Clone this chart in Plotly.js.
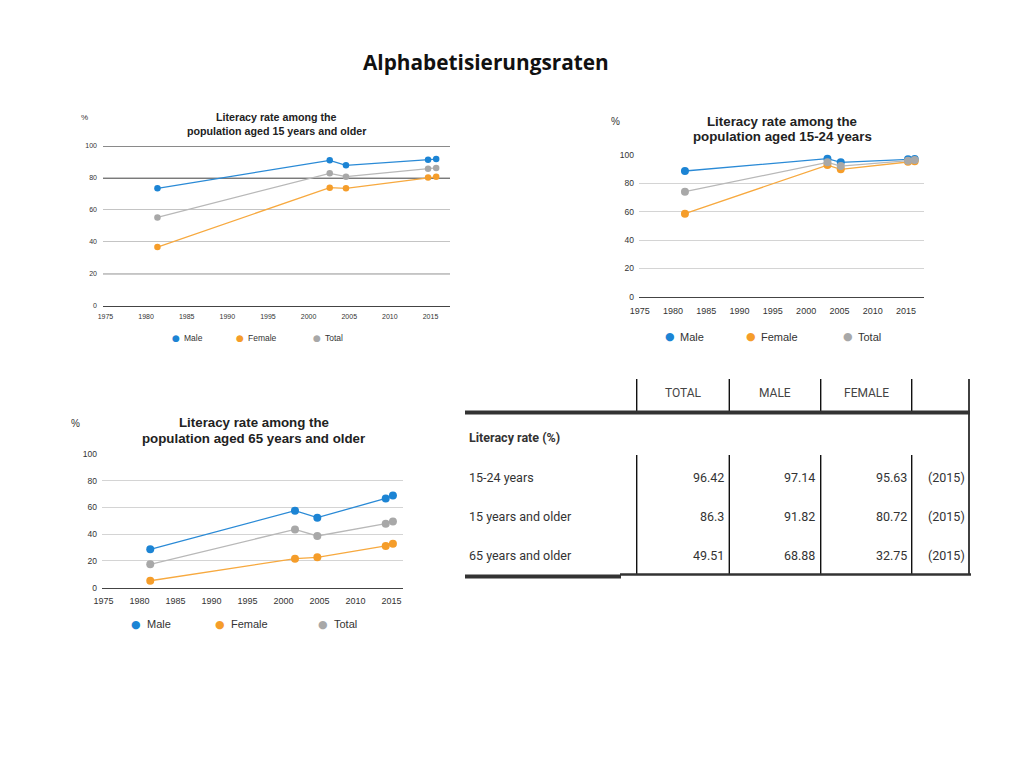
<!DOCTYPE html>
<html>
<head>
<meta charset="utf-8">
<script src="https://cdn.plot.ly/plotly-3.0.1.min.js"></script>
<style>html,body{margin:0;padding:0;background:#fff;}#chart{width:1024px;height:768px;}</style>
</head>
<body>
<div id="chart"></div>
<script>
// ---------- data ----------
const seriesNames = ["Male", "Female", "Total"];
const xTicks = [1975, 1980, 1985, 1990, 1995, 2000, 2005, 2010, 2015];
const yTicks = [0, 20, 40, 60, 80, 100];

// Chart A: population aged 15 years and older
const yearsA = [1981.4, 2002.6, 2004.6, 2014.7, 2015.7];
const maleA = [73.5, 91.0, 87.9, 91.4, 91.8];
const femaleA = [36.7, 73.9, 73.5, 80.2, 80.7];
const totalA = [55.3, 82.9, 80.8, 85.8, 86.3];

// Chart B: population aged 15-24 years
const yearsB = [1981.8, 2003.2, 2005.2, 2015.3, 2016.3];
const maleB = [88.7, 97.4, 94.8, 97.0, 97.1];
const femaleB = [58.6, 92.9, 89.9, 95.3, 95.6];
const totalB = [74.1, 94.8, 92.2, 96.0, 96.4];

// Chart C: population aged 65 years and older
const yearsC = [1981.5, 2001.6, 2004.7, 2014.2, 2015.2];
const maleC = [28.7, 57.6, 52.4, 66.8, 68.9];
const femaleC = [5.2, 21.7, 22.7, 31.2, 32.8];
const totalC = [17.5, 43.6, 38.7, 47.9, 49.5];

const titleA = ["Literacy rate among the", "population aged 15 years and older"];
const titleB = ["Literacy rate among the", "population aged 15-24 years"];
const titleC = ["Literacy rate among the", "population aged 65 years and older"];
const mainTitle = "Alphabetisierungsraten";

// Table
const tableHeaders = ["TOTAL", "MALE", "FEMALE"];
const tableSection = "Literacy rate (%)";
const tableRows = ["15-24 years", "15 years and older", "65 years and older"];
const tableTotal = [96.42, 86.3, 49.51];
const tableMale = [97.14, 91.82, 68.88];
const tableFemale = [95.63, 80.72, 32.75];
const tableYear = ["(2015)", "(2015)", "(2015)"];

// ---------- styling / layout ----------
const W = 1024, H = 768;
const px = x => x / W;
const py = y => 1 - y / H;
const colors = ["#1c84d4", "#f59d2a", "#a8a8a8"];
const lineColors = ["#2a8ad6", "#f7a93f", "#b8b8b8"];
const sans = "Liberation Sans, Arial, sans-serif";
const narrow = "Roboto, Liberation Sans Narrow, sans-serif";

const data = [];
const annotations = [];
const shapes = [];

function addChart(idx, years, series, cfg) {
  const xa = idx === 1 ? "x" : "x" + idx;
  const ya = idx === 1 ? "y" : "y" + idx;
  series.forEach((vals, i) => {
    data.push({
      type: "scatter", mode: "lines+markers",
      x: years, y: vals, xaxis: xa, yaxis: ya,
      name: seriesNames[i], showlegend: false, cliponaxis: false,
      line: {color: lineColors[i], width: 1.3},
      marker: {color: colors[i], size: cfg.msize}
    });
  });
  cfg.title.forEach((t, k) => {
    annotations.push({xref: "paper", yref: "paper", x: px(cfg.titleX), y: py(cfg.titleY[k]),
      xanchor: "center", yanchor: "middle", showarrow: false, text: "<b>" + t + "</b>",
      font: {family: sans, size: cfg.titleSize, color: "#222"}});
  });
  annotations.push({xref: "paper", yref: "paper", x: px(cfg.pct[0]), y: py(cfg.pct[1]),
    xanchor: "center", yanchor: "middle", showarrow: false, text: "%",
    font: {family: sans, size: cfg.pctSize, color: "#333"}});
  seriesNames.forEach((n, i) => {
    annotations.push({xref: "paper", yref: "paper", x: px(cfg.legX[i]), y: py(cfg.legY),
      xanchor: "center", yanchor: "middle", showarrow: false, text: "●",
      font: {family: "DejaVu Sans, sans-serif", size: cfg.legDot, color: colors[i]}});
    annotations.push({xref: "paper", yref: "paper", x: px(cfg.legX[i] + cfg.legGap), y: py(cfg.legY),
      xanchor: "left", yanchor: "middle", showarrow: false, text: n,
      font: {family: sans, size: cfg.legSize, color: "#333"}});
  });
}

const cfgA = {msize: 6.5, title: titleA, titleX: 276, titleY: [117, 130.5], titleSize: 10.7,
  pct: [84, 117], pctSize: 8, legX: [176, 240, 317], legY: 338, legGap: 6, legSize: 8.5, legDot: 9};
const cfgB = {msize: 8, title: titleB, titleX: 782, titleY: [122, 136], titleSize: 13.3,
  pct: [615, 122], pctSize: 10, legX: [670, 751, 848], legY: 337, legGap: 8, legSize: 11, legDot: 11};
const cfgC = {msize: 8, title: titleC, titleX: 253.5, titleY: [422.5, 438], titleSize: 13.3,
  pct: [75, 423], pctSize: 10, legX: [136, 220, 323], legY: 624, legGap: 8.5, legSize: 11, legDot: 11};

addChart(1, yearsA, [maleA, femaleA, totalA], cfgA);
addChart(2, yearsB, [maleB, femaleB, totalB], cfgB);
addChart(3, yearsC, [maleC, femaleC, totalC], cfgC);

annotations.push({xref: "paper", yref: "paper", x: px(486), y: py(62), xanchor: "center", yanchor: "middle",
  showarrow: false, text: "<b>" + mainTitle + "</b>", font: {family: "Open Sans, " + sans, size: 20.8, color: "#111"}});

// chart A emphasised grid lines (as in the scanned original)
[[100, "#8a8a8a", 2], [80, "#7a7a7a", 2], [20, "#999", 1.6]].forEach(g => {
  shapes.push({type: "line", xref: "x domain", yref: "y", x0: 0, x1: 1, y0: g[0], y1: g[0],
    line: {color: g[1], width: g[2]}, layer: "below"});
});

function xaxis(domain, range, size, standoff) {
  return {domain: domain, range: range, tickvals: xTicks, ticktext: xTicks.map(String),
    showgrid: false, zeroline: false, showline: true, linecolor: "#444", linewidth: 1.6,
    ticks: "", ticklabelstandoff: standoff, tickfont: {family: sans, size: size, color: "#333"}, fixedrange: true};
}
function yaxis(domain, size, grid, standoff) {
  return {domain: domain, range: [0, 100], tickvals: yTicks, showgrid: true, gridcolor: grid, gridwidth: 1,
    zeroline: false, showline: false, ticks: "", ticklabelstandoff: standoff,
    tickfont: {family: sans, size: size, color: "#333"}, fixedrange: true};
}

// ---------- table ----------
const tf = {family: narrow, size: 12.5, color: "#333"};
const headerX = [683, 775, 866];
tableHeaders.forEach((h, i) => annotations.push({xref: "paper", yref: "paper", x: px(headerX[i]), y: py(393),
  xanchor: "center", yanchor: "middle", showarrow: false, text: h, font: {family: narrow, size: 12, color: "#444"}}));
annotations.push({xref: "paper", yref: "paper", x: px(467), y: py(437), xanchor: "left", yanchor: "middle",
  showarrow: false, text: "<b>" + tableSection + "</b>", font: tf});
const rowY = [477, 516, 555];
const colRight = [725.5, 817, 908.5, 967];
tableRows.forEach((r, i) => {
  annotations.push({xref: "paper", yref: "paper", x: px(467), y: py(rowY[i]), xanchor: "left", yanchor: "middle",
    showarrow: false, text: r, font: tf});
  [tableTotal[i], tableMale[i], tableFemale[i], tableYear[i]].forEach((v, j) => {
    annotations.push({xref: "paper", yref: "paper", x: px(colRight[j]), y: py(rowY[i]), xanchor: "right", yanchor: "middle",
      showarrow: false, text: String(v), font: tf});
  });
});
const vlines = [636.7, 729.3, 820.7, 911.7];
vlines.forEach(x => {
  shapes.push({type: "line", xref: "paper", yref: "paper", x0: px(x), x1: px(x), y0: py(379), y1: py(412), line: {color: "#111", width: 1.4}});
  shapes.push({type: "line", xref: "paper", yref: "paper", x0: px(x), x1: px(x), y0: py(455), y1: py(574), line: {color: "#111", width: 1.4}});
});
shapes.push({type: "line", xref: "paper", yref: "paper", x0: px(969), x1: px(969), y0: py(379), y1: py(575), line: {color: "#111", width: 1.6}});
shapes.push({type: "line", xref: "paper", yref: "paper", x0: px(465), x1: px(970), y0: py(412.5), y1: py(412.5), line: {color: "#333", width: 4}});
shapes.push({type: "line", xref: "paper", yref: "paper", x0: px(465), x1: px(621), y0: py(576.5), y1: py(576.5), line: {color: "#333", width: 4}});
shapes.push({type: "line", xref: "paper", yref: "paper", x0: px(620), x1: px(971), y0: py(574.5), y1: py(574.5), line: {color: "#333", width: 2.6}});

const layout = {
  width: W, height: H, margin: {l: 0, r: 0, t: 0, b: 0},
  paper_bgcolor: "#fff", plot_bgcolor: "rgba(0,0,0,0)", showlegend: false,
  xaxis: xaxis([px(103), px(450)], [1974.7, 2017.4], 7, 3),
  yaxis: yaxis([py(305.7), py(146)], 7, "#c4c4c4", 5),
  xaxis2: Object.assign(xaxis([px(639), px(924)], [1974.9, 2017.7], 9, 5), {anchor: "y2"}),
  yaxis2: Object.assign(yaxis([py(296.7), py(155)], 8.5, "#d4d4d4", 4), {anchor: "x2"}),
  xaxis3: Object.assign(xaxis([px(102), px(403)], [1974.8, 2016.6], 9, 4), {anchor: "y3"}),
  yaxis3: Object.assign(yaxis([py(587.7), py(454)], 8.5, "#d4d4d4", 4), {anchor: "x3"}),
  annotations: annotations, shapes: shapes
};
layout.xaxis.anchor = "y";
layout.yaxis.anchor = "x";

Plotly.newPlot("chart", data, layout, {staticPlot: true, displayModeBar: false});
</script>
</body>
</html>
